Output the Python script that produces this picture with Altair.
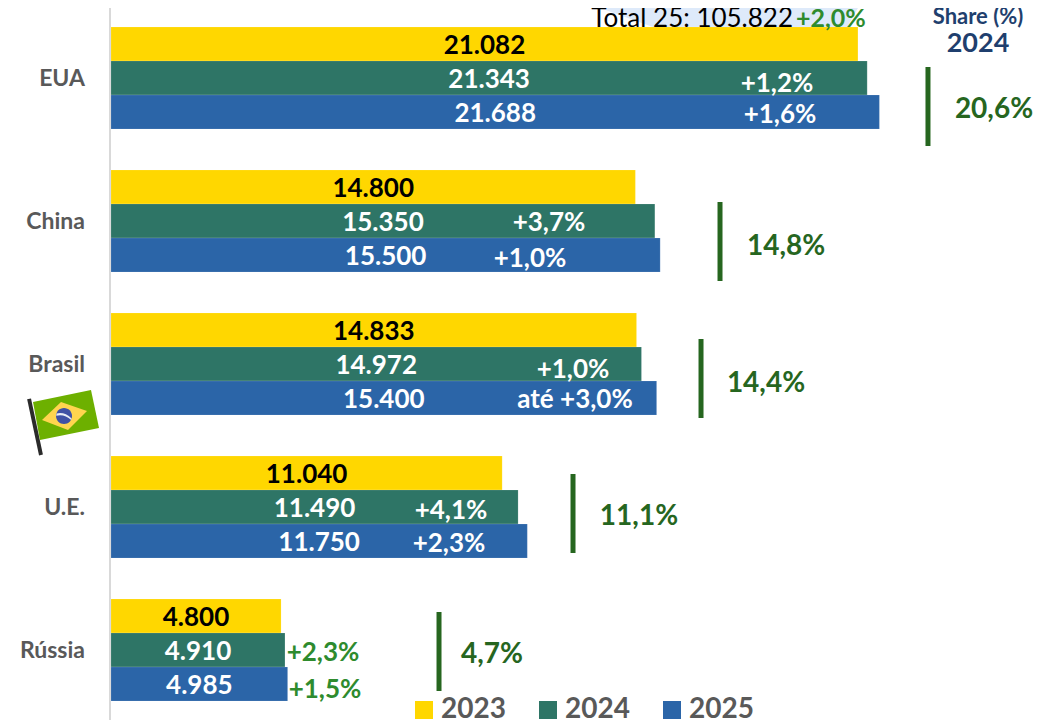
import altair as alt
import pandas as pd

categories = ["EUA", "China", "Brasil", "U.E.", "Rússia"]
years = ["2023", "2024", "2025"]
colors = ["#FFD700", "#2E7566", "#2B65A8"]
v2023 = [21082, 14800, 14833, 11040, 4800]
v2024 = [21343, 15350, 14972, 11490, 4910]
v2025 = [21688, 15500, 15400, 11750, 4985]
txt2023 = ["21.082", "14.800", "14.833", "11.040", "4.800"]
txt2024 = ["21.343", "15.350", "14.972", "11.490", "4.910"]
txt2025 = ["21.688", "15.500", "15.400", "11.750", "4.985"]
pct2024 = ["+1,2%", "+3,7%", "+1,0%", "+4,1%", "+2,3%"]
pct2025 = ["+1,6%", "+1,0%", "até +3,0%", "+2,3%", "+1,5%"]
share = ["20,6%", "14,8%", "14,4%", "11,1%", "4,7%"]

# label anchors, expressed in value-axis units
pct2024_at = [18798, 12362, 13040, 9596, 5984]
pct2025_at = [18882, 11826, 13096, 9540, 6040]
pct2024_nudge = [5, 1, 5, 3, 2]
pct2025_nudge = [2, 3, 1, 2, 5]
share_bar_at = [23059, 17189, 16653, 13040, 9258]
share_text_at = [24922, 19052, 18487, 14902, 10754]
share_bar_nudge = [28.5, 20.5, 14.5, 6.5, 1.5]
share_text_nudge = [31.5, 25.5, 19.5, 9.5, 4.5]

FONT = "Lato"
W, H = 1027, 712
K = 0.03543
x_scale = alt.Scale(domain=[0, (W - 103) / K], range=[103, W], nice=False, zero=False)
y_scale = alt.Scale(domain=categories, range=[-1.5, 713.5], paddingInner=41 / 143, paddingOuter=20.5 / 143)
off_scale = alt.Scale(domain=[0, 102], range=[0, 102])

bars = pd.DataFrame(
    [{"cat": c, "year": y, "v": val}
     for y, vals in zip(years, [v2023, v2024, v2025])
     for c, val in zip(categories, vals)]
)
X = lambda f: alt.X(f, type="quantitative", scale=x_scale, axis=None)
Y = alt.Y("cat:N", scale=y_scale, axis=None)
OFF = alt.YOffset("off:Q", scale=off_scale)

bar_layer = alt.Chart(bars).mark_bar(stroke="#FFFFFF", strokeOpacity=0.25, strokeWidth=0.5).encode(
    x=X("v"),
    y=Y,
    yOffset=alt.YOffset("year:N", sort=years),
    color=alt.Color(
        "year:N",
        scale=alt.Scale(domain=years, range=colors),
        legend=alt.Legend(
            title=None, orient="none", legendX=402, legendY=687, direction="horizontal",
            symbolType="square", symbolSize=324, symbolStrokeWidth=0, symbolOpacity=1,
            labelFont=FONT, labelFontSize=28, labelFontWeight="bold", labelColor="#595959",
            columnPadding=28, labelOffset=3, symbolOffset=0, clipHeight=30,
        ),
    ),
)

def value_df(txts, vals, row):
    return pd.DataFrame({"cat": categories, "x": [v / 2 for v in vals], "t": txts, "off": [row + 2] * 5})

def value_text(df, color):
    return alt.Chart(df).mark_text(
        font=FONT, fontSize=26, fontWeight="bold", color=color, baseline="middle", align="center"
    ).encode(x=X("x"), y=Y, yOffset=OFF, text="t:N")

pct = pd.concat([
    pd.DataFrame({"cat": categories, "x": pct2024_at, "t": pct2024, "off": [52 + n for n in pct2024_nudge]}),
    pd.DataFrame({"cat": categories, "x": pct2025_at, "t": pct2025, "off": [86 + n for n in pct2025_nudge]}),
])
pct_text = lambda df, color: alt.Chart(df).mark_text(
    font=FONT, fontSize=26, fontWeight="bold", color=color, baseline="middle", align="center"
).encode(x=X("x"), y=Y, yOffset=OFF, text="t:N")

share_bars = pd.DataFrame({"cat": categories, "x": share_bar_at, "off": [51 + n for n in share_bar_nudge]})
share_texts = pd.DataFrame({"cat": categories, "x": share_text_at, "t": share, "off": [51 + n for n in share_text_nudge]})

cat_labels = pd.DataFrame({"cat": categories, "x": [0] * 5, "off": [52] * 5})

def flag_part(path, color):
    return alt.Chart(pd.DataFrame({"cat": ["Brasil"], "x": [-1270], "off": [102]})).mark_point(
        shape=path, size=4900, filled=True, fill=color, stroke=None, opacity=1
    ).encode(x=X("x"), y=Y, yOffset=OFF)

flag = [
    flag_part("M-1.11,-.45L-1,-.47L-.66,1.13L-.77,1.16Z", "#2B2B2B"),
    flag_part("M-.943,-.371L.714,-.714L.943,.371L-.743,.714Z", "#6DB000"),
    flag_part("M-.686,.143L-.143,-.371L.6,-.114L.057,.429Z", "#FFD54F"),
    flag_part("M-.286,.029A.229,.229 0 1,1 .172,.029A.229,.229 0 1,1 -.286,.029Z", "#3F51A5"),
    flag_part("M-.27,-.04Q-.05,-.1 .16,.1L.15,.14Q-.05,-.04 -.28,.02Z", "#E8ECF5"),
]

anno = alt.Chart(pd.DataFrame({"a": [0]}))
wedge = anno.mark_point(
    shape="M-.992,-.073L.992,-.073L.908,.073L-.585,.073Z", size=67600, filled=True, fill="#DEEAFA", stroke=None, opacity=1
).encode(x=alt.value(721), y=alt.value(9.5))

def head(text, px, py, color, size, weight="normal", align="left"):
    return anno.mark_text(
        text=text, font=FONT, fontSize=size, fontWeight=weight, color=color, align=align, baseline="alphabetic"
    ).encode(x=alt.value(px), y=alt.value(py))

chart = alt.layer(
    wedge,
    anno.mark_rule(color="#D9D9D9", strokeWidth=2).encode(x=alt.value(102), y=alt.value(0), y2=alt.value(712)),
    bar_layer,
    value_text(value_df(txt2023, v2023, 17), "#000000"),
    value_text(value_df(txt2024, v2024, 51), "#FFFFFF"),
    value_text(value_df(txt2025, v2025, 85), "#FFFFFF"),
    pct_text(pct[pct.cat != "Rússia"], "#FFFFFF"),
    pct_text(pct[pct.cat == "Rússia"], "#2E8B2E"),
    alt.Chart(share_bars).mark_tick(size=79, thickness=5, color="#26661F", opacity=1).encode(x=X("x"), y=Y, yOffset=OFF),
    alt.Chart(share_texts).mark_text(
        font=FONT, fontSize=28, fontWeight="bold", color="#26661F", baseline="middle", align="center"
    ).encode(x=X("x"), y=Y, yOffset=OFF, text="t:N"),
    alt.Chart(cat_labels).mark_text(
        font=FONT, fontSize=23, fontWeight="bold", color="#595959", baseline="middle", align="right", dx=-26
    ).encode(x=X("x"), y=Y, yOffset=OFF, text="cat:N"),
    *flag,
    head("Total 25: 105.822", 785, 19, "#000000", 26, "normal", "right"),
    head("+2,0%", 788, 19, "#2E8B2E", 25, "bold"),
    head("Share (%)", 970, 16, "#1F3F6E", 22, "bold", "center"),
    head("2024", 970, 44, "#1F3F6E", 27, "bold", "center"),
).resolve_scale(yOffset="independent", color="independent").properties(
    width=W, height=H, padding=0, autosize=alt.AutoSizeParams(type="none")
).configure_view(stroke=None)

chart.save("out.html", embed_options={"renderer": "svg", "actions": False})
